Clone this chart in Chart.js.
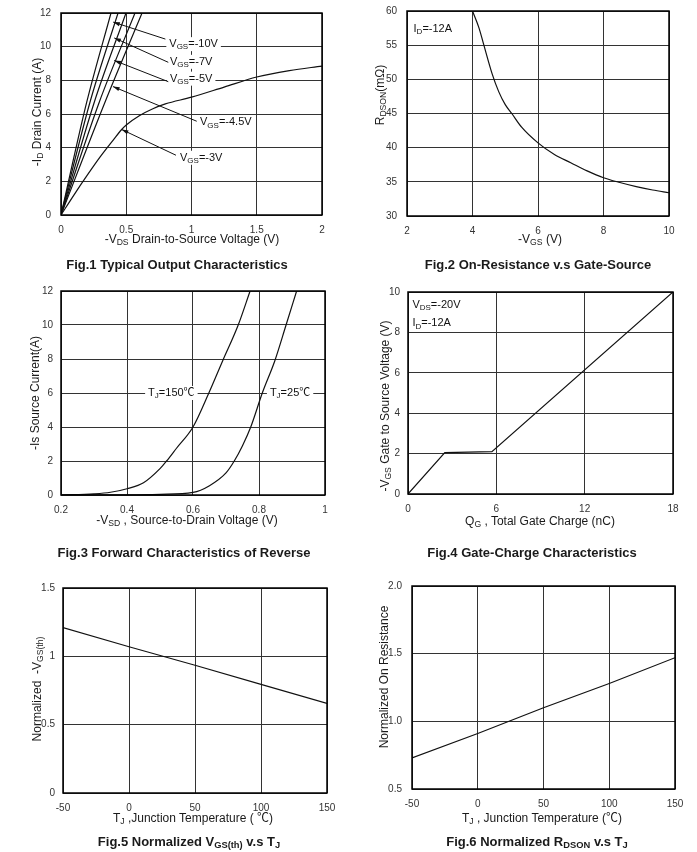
<!DOCTYPE html>
<html>
<head>
<meta charset="utf-8">
<script src="https://cdn.jsdelivr.net/npm/chart.js@4.4.0/dist/chart.umd.min.js"></script>
<style>
  body { margin:0; background:#fff; width:697px; height:852px; position:relative; overflow:hidden;
         font-family:'Liberation Sans', 'Noto Sans CJK SC', Arial, sans-serif; color:#1a1a1a; }
  canvas { position:absolute; }
  .t { position:absolute; white-space:nowrap; font-size:12px; transform:translate(-50%,-50%); }
  .ty { transform:translate(-50%,-50%) rotate(-90deg); }
  .fig { position:absolute; white-space:nowrap; font-size:13px; font-weight:bold; transform:translate(-50%,-50%); }
  sub { font-size:0.72em; vertical-align:-0.25em; line-height:0; }
  .cj { font-family:'Noto Sans CJK SC', sans-serif; }
</style>
</head>
<body>
<canvas id="c1"></canvas><canvas id="c2"></canvas><canvas id="c3"></canvas>
<canvas id="c4"></canvas><canvas id="c5"></canvas><canvas id="c6"></canvas>

<div class="t" style="left:192px;top:239px">-V<sub>DS</sub> Drain-to-Source Voltage (V)</div>
<div class="t ty" style="left:37px;top:112px">-I<sub>D</sub> Drain Current (A)</div>
<div class="fig" style="left:177px;top:264px">Fig.1 Typical Output Characteristics</div>

<div class="t" style="left:540px;top:239px">-V<sub>GS</sub> (V)</div>
<div class="t ty" style="left:380px;top:95px">R<sub>DSON</sub>(mΩ)</div>
<div class="fig" style="left:538px;top:264px">Fig.2 On-Resistance v.s Gate-Source</div>

<div class="t" style="left:187px;top:520px">-V<sub>SD</sub> , Source-to-Drain Voltage (V)</div>
<div class="t ty" style="left:35px;top:393px">-Is Source Current(A)</div>
<div class="fig" style="left:184px;top:552px">Fig.3 Forward Characteristics of Reverse</div>

<div class="t" style="left:540px;top:521px">Q<sub>G</sub> , Total Gate Charge (nC)</div>
<div class="t ty" style="left:385px;top:406px">-V<sub>GS</sub> Gate to Source Voltage (V)</div>
<div class="fig" style="left:532px;top:552px">Fig.4 Gate-Charge Characteristics</div>

<div class="t" style="left:193px;top:816px">T<sub>J</sub> ,Junction Temperature ( <span class="cj">℃</span>)</div>
<div class="t ty" style="left:37px;top:689px">Normalized &nbsp;-V<sub>GS(th)</sub></div>
<div class="fig" style="left:189px;top:841px">Fig.5 Normalized V<sub>GS(th)</sub> v.s T<sub>J</sub></div>

<div class="t" style="left:542px;top:816px">T<sub>J</sub> , Junction Temperature (<span class="cj">℃</span>)</div>
<div class="t ty" style="left:384px;top:677px">Normalized On Resistance</div>
<div class="fig" style="left:537px;top:841px">Fig.6 Normalized R<sub>DSON</sub> v.s T<sub>J</sub></div>

<script>
const FONT = "'Liberation Sans', 'Noto Sans CJK SC', Arial, sans-serif";

// Fig.1 typical output characteristics: -VDS (V) vs -ID (A)
const vdsVgs3 = [0, 0.1, 0.2, 0.3, 0.4, 0.465, 0.5, 0.6, 0.7, 0.8, 1.0, 1.25, 1.5, 1.75, 2.0];
const idVgs3  = [0, 1.2, 2.35, 3.45, 4.45, 5.08, 5.35, 5.9, 6.3, 6.6, 7.0, 7.6, 8.2, 8.58, 8.85];
const idSteep = [0, 6.7, 12];
const vdsVgs10  = [0, 0.197, 0.383];
const vdsVgs8   = [0, 0.222, 0.437];
const vdsVgs7   = [0, 0.255, 0.498];
const vdsVgs5   = [0, 0.293, 0.567];
const vdsVgs4p5 = [0, 0.337, 0.621];

// Fig.2 on-resistance vs gate-source voltage
const vgsOn = [4, 4.2, 4.33, 4.6, 4.8, 5, 5.2, 5.5, 6, 6.5, 7, 7.5, 8, 8.5, 9, 9.5, 10];
const rdsOn = [60, 57.5, 55.3, 50.8, 48.2, 46.3, 45, 43, 40.7, 39, 37.8, 36.6, 35.6, 34.9, 34.3, 33.8, 33.4];

// Fig.3 body diode forward characteristics
const vsd150 = [0.2, 0.3, 0.35, 0.4, 0.45, 0.5, 0.52, 0.55, 0.6, 0.648, 0.69, 0.737, 0.773];
const is150  = [0, 0.07, 0.16, 0.37, 0.72, 1.55, 2.0, 2.75, 4.0, 6.0, 7.9, 10, 12];
const vsd25  = [0.2, 0.4, 0.5, 0.6, 0.65, 0.7, 0.725, 0.75, 0.775, 0.81, 0.848, 0.882, 0.914];
const is25   = [0, 0.01, 0.04, 0.15, 0.55, 1.3, 2.0, 2.9, 4.0, 6.0, 7.9, 10, 12];

// Fig.4 gate charge
const qg  = [0, 2.5, 5.7, 18];
const vgs = [0, 2.05, 2.1, 10];

// Fig.5 / Fig.6 vs junction temperature
const tj    = [-50, 0, 50, 100, 150];
const vthN  = [1.21, 1.07, 0.935, 0.795, 0.655];
const rdsN  = [0.73, 0.91, 1.10, 1.28, 1.47];

// text helpers: 'V_{GS}=-10V' -> V with subscript GS
function richParts(str) {
  return str.split(/(_\{[^}]*\})/).filter(Boolean).map(p =>
    p.startsWith('_{') ? { t: p.slice(2, -1), sub: true } : { t: p, sub: false });
}
function richWidth(ctx, str) {
  let w = 0;
  richParts(str).forEach(p => { ctx.font = (p.sub ? '8px ' : '11px ') + FONT; w += ctx.measureText(p.t).width; });
  return w;
}
function drawRich(ctx, str, x, y) {
  let cx = x;
  richParts(str).forEach(p => {
    ctx.font = (p.sub ? '8px ' : '11px ') + FONT;
    ctx.fillText(p.t, cx, p.sub ? y + 3 : y);
    cx += ctx.measureText(p.t).width;
  });
}

function notesPlugin(notes) {
  return {
    id: 'notes',
    afterDatasetsDraw(chart) {
      const ctx = chart.ctx, xs = chart.scales.x, ys = chart.scales.y;
      ctx.save();
      notes.forEach(n => {
        const px = xs.getPixelForValue(n.x), py = ys.getPixelForValue(n.y);
        const w = richWidth(ctx, n.text);
        ctx.fillStyle = '#fff';
        ctx.fillRect(px - 3, py - 7, w + 6, 14);
        ctx.fillStyle = '#111';
        ctx.textBaseline = 'middle';
        ctx.textAlign = 'left';
        drawRich(ctx, n.text, px, py);
        if (n.from) {
          const x0 = xs.getPixelForValue(n.from[0]), y0 = ys.getPixelForValue(n.from[1]);
          const x1 = xs.getPixelForValue(n.to[0]), y1 = ys.getPixelForValue(n.to[1]);
          const a = Math.atan2(y1 - y0, x1 - x0);
          ctx.strokeStyle = '#111'; ctx.lineWidth = 1;
          ctx.beginPath(); ctx.moveTo(x0, y0); ctx.lineTo(x1, y1); ctx.stroke();
          ctx.beginPath();
          ctx.moveTo(x1, y1);
          ctx.lineTo(x1 - 7 * Math.cos(a - 0.3), y1 - 7 * Math.sin(a - 0.3));
          ctx.lineTo(x1 - 7 * Math.cos(a + 0.3), y1 - 7 * Math.sin(a + 0.3));
          ctx.closePath(); ctx.fill();
        }
      });
      ctx.restore();
    }
  };
}

const frame = {
  id: 'frame',
  afterDraw(chart) {
    const a = chart.chartArea, ctx = chart.ctx;
    ctx.save();
    ctx.strokeStyle = '#000'; ctx.lineWidth = 1.5;
    ctx.strokeRect(a.left, a.top, a.right - a.left, a.bottom - a.top);
    ctx.restore();
  }
};

// box = plot area [left, top, right, bottom] on the page
function plot(id, box, cfg) {
  const c = document.getElementById(id);
  c.width = box[2] - box[0] + 80;
  c.height = box[3] - box[1] + 42;
  c.style.left = (box[0] - 60) + 'px';
  c.style.top = (box[1] - 12) + 'px';
  const datasets = cfg.series.map(s => ({
    data: s.x.map((v, i) => ({ x: v, y: s.y[i] })),
    showLine: true, fill: false, pointRadius: 0,
    borderColor: '#111', borderWidth: 1.2,
    cubicInterpolationMode: s.smooth ? 'monotone' : 'default', tension: 0
  }));
  const tickFont = { family: FONT, size: 10 };
  return new Chart(c, {
    type: 'scatter',
    data: { datasets },
    options: {
      responsive: false, animation: false, events: [],
      layout: { padding: { left: 0, top: 12, right: 20, bottom: 0 } },
      plugins: { legend: { display: false }, tooltip: { enabled: false } },
      scales: {
        x: {
          type: 'linear', min: cfg.x[0], max: cfg.x[1],
          ticks: { stepSize: cfg.x[2], padding: 9, font: tickFont, color: '#333', callback: cfg.xFmt },
          grid: { color: '#333', lineWidth: 1, drawTicks: false },
          border: { display: false },
          afterFit: s => { s.height = 30; }
        },
        y: {
          type: 'linear', min: cfg.y[0], max: cfg.y[1],
          ticks: { stepSize: cfg.y[2], padding: cfg.yPad || 10, font: tickFont, color: '#333', callback: cfg.yFmt },
          grid: { color: '#333', lineWidth: 1, drawTicks: false },
          border: { display: false },
          afterFit: s => { s.width = 60; }
        }
      }
    },
    plugins: [notesPlugin(cfg.notes || []), frame]
  });
}

plot('c1', [61, 9, 322, 215], {
  x: [0, 2, 0.5], y: [0, 12, 2],
  series: [
    { x: vdsVgs10, y: idSteep, smooth: true },
    { x: vdsVgs8, y: idSteep, smooth: true },
    { x: vdsVgs7, y: idSteep, smooth: true },
    { x: vdsVgs5, y: idSteep, smooth: true },
    { x: vdsVgs4p5, y: idSteep, smooth: true },
    { x: vdsVgs3, y: idVgs3, smooth: true }
  ],
  notes: [
    { text: 'V_{GS}=-10V', x: 0.83, y: 10.15, from: [0.80, 10.45], to: [0.40, 11.46] },
    { text: 'V_{GS}=-7V', x: 0.835, y: 9.1, from: [0.822, 9.07], to: [0.408, 10.52] },
    { text: 'V_{GS}=-5V', x: 0.835, y: 8.1, from: [0.822, 7.92], to: [0.408, 9.18] },
    { text: 'V_{GS}=-4.5V', x: 1.065, y: 5.5, from: [1.04, 5.57], to: [0.398, 7.63] },
    { text: 'V_{GS}=-3V', x: 0.912, y: 3.4, from: [0.881, 3.55], to: [0.465, 5.08] }
  ]
});

plot('c2', [407, 7, 669, 216], {
  x: [2, 10, 2], y: [30, 60, 5],
  series: [{ x: vgsOn, y: rdsOn, smooth: true }],
  notes: [{ text: 'I_{D}=-12A', x: 2.2, y: 57.4 }]
});

plot('c3', [61, 289, 325, 495], {
  x: [0.2, 1, 0.2], y: [0, 12, 2], yPad: 8,
  series: [
    { x: vsd150, y: is150, smooth: true },
    { x: vsd25, y: is25, smooth: true }
  ],
  notes: [
    { text: 'T_{J}=150℃', x: 0.464, y: 6 },
    { text: 'T_{J}=25℃', x: 0.833, y: 6 }
  ]
});

plot('c4', [408, 290, 673, 494], {
  x: [0, 18, 6], y: [0, 10, 2], yPad: 8,
  series: [{ x: qg, y: vgs }],
  notes: [
    { text: 'V_{DS}=-20V', x: 0.3, y: 9.38 },
    { text: 'I_{D}=-12A', x: 0.3, y: 8.45 }
  ]
});

plot('c5', [63, 586, 327, 793], {
  x: [-50, 150, 50], y: [0, 1.5, 0.5], yPad: 8,
  series: [{ x: tj, y: vthN }]
});

plot('c6', [412, 582, 675, 789], {
  x: [-50, 150, 50], y: [0.5, 2.0, 0.5],
  yFmt: v => v.toFixed(1),
  series: [{ x: tj, y: rdsN }]
});
</script>
</body>
</html>
